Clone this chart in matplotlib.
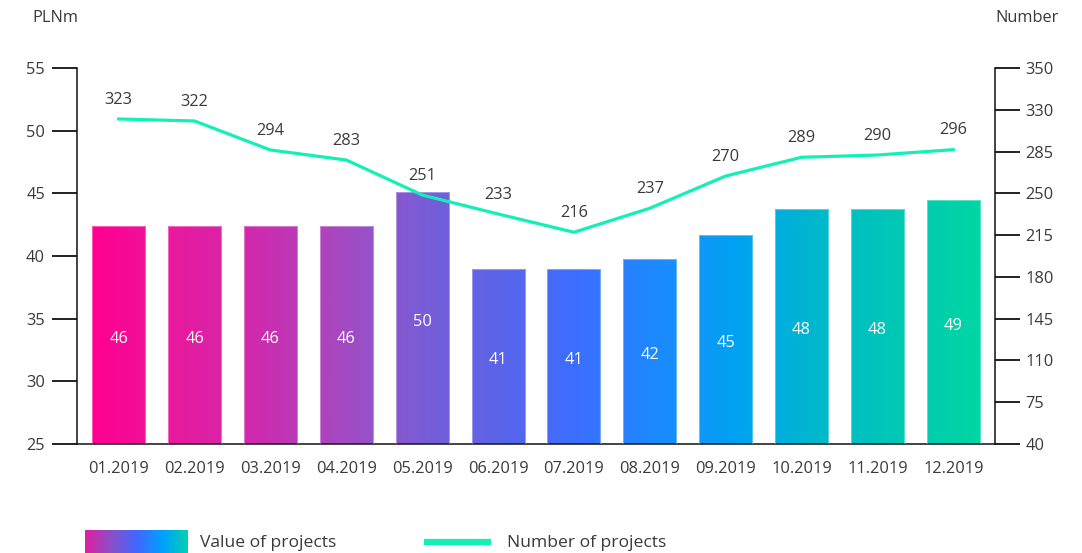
import numpy as np
import matplotlib
matplotlib.use("Agg")
import matplotlib.pyplot as plt
from matplotlib.colors import LinearSegmentedColormap
from matplotlib.lines import Line2D

plt.rcParams['font.family'] = ['Open Sans', 'DejaVu Sans']

# data
months = ["01.2019", "02.2019", "03.2019", "04.2019", "05.2019", "06.2019",
          "07.2019", "08.2019", "09.2019", "10.2019", "11.2019", "12.2019"]
bar_heights = [42.4, 42.4, 42.4, 42.4, 45.1, 39.0, 39.0, 39.8, 41.7, 43.75, 43.75, 44.45]
bar_labels = ["46", "46", "46", "46", "50", "41", "41", "42", "45", "48", "48", "49"]
line_vals = [312.3, 310.6, 286.3, 277.9, 248.6, 232.7, 217.4, 237.5, 264.5, 280.2, 282.1, 286.6]
line_labels = ["323", "322", "294", "283", "251", "233", "216", "237", "270", "289", "290", "296"]

left_ticks = [25, 30, 35, 40, 45, 50, 55]
right_ticks = [40, 75, 110, 145, 180, 215, 250, 285, 320, 355]
right_tick_labels = ["40", "75", "110", "145", "180", "215", "250", "285", "330", "350"]

# style
grad_colors = ["#FF0090", "#E81A9E", "#D02AAE", "#A848C0", "#7C5CD4", "#5C64E8",
               "#3C6EFF", "#1C8AFF", "#00A2F2", "#00B8CC", "#00C8B4", "#00D6A4"]
line_color = "#12F0B8"
text_color = "#3a3a3a"
fs = 11.8

cmap = LinearSegmentedColormap.from_list("bars", grad_colors)

fig = plt.figure(figsize=(10.82, 5.53), dpi=100)
ax = fig.add_axes([77 / 1082, 1 - 444 / 553, (995 - 77) / 1082, 376 / 553])
ax2 = ax.twinx()

ybase = left_ticks[0]
x = np.arange(len(months))
width = 0.7
bars = ax.bar(x, np.array(bar_heights) - ybase, bottom=ybase, width=width,
              color="none", edgecolor="none", zorder=2)

grad = np.linspace(0, 1, 600).reshape(1, -1)
gx0, gx1 = -width / 2, len(months) - 1 + width / 2
for b in bars:
    im = ax.imshow(grad, extent=[gx0, gx1, 0, 60], cmap=cmap, aspect="auto",
                   interpolation="bilinear", zorder=2)
    im.set_clip_path(b)
    b.set_edgecolor((1, 1, 1, 0.35))
    b.set_linewidth(0.8)
    b.set_zorder(3)

for xi, h, lab in zip(x, bar_heights, bar_labels):
    ax.text(xi, (ybase + h) / 2 - 0.3, lab, ha="center", va="center", color="white",
            fontsize=fs, zorder=4)

ax.set_xlim(-0.55, len(months) - 0.45)
ax.set_ylim(25, 55)
ax.set_yticks(left_ticks)
ax.set_xticks(x)
ax.set_xticklabels(months)

ax2.plot(x, line_vals, color=line_color, lw=2.3, zorder=5)
for xi, v, lab in zip(x, line_vals, line_labels):
    ax2.annotate(lab, (xi, v), xytext=(0, 14), textcoords="offset points",
                 ha="center", va="center", fontsize=fs, color=text_color)
ax2.set_ylim(40, 355)
ax2.set_yticks(right_ticks)
ax2.set_yticklabels(right_tick_labels)

for a in (ax, ax2):
    a.spines["top"].set_visible(False)
    for s in a.spines.values():
        s.set_linewidth(1.1)
        s.set_color("#111111")
ax.spines["right"].set_visible(False)
ax2.spines["left"].set_visible(False)
ax2.spines["bottom"].set_visible(False)

ax.tick_params(axis="y", direction="out", length=18, width=1.3, pad=5,
               labelsize=fs, labelcolor=text_color, color="#111111")
ax2.tick_params(axis="y", direction="out", length=18, width=1.3, pad=4,
                labelsize=fs, labelcolor=text_color, color="#111111")
ax.tick_params(axis="x", length=0, pad=12, labelsize=fs, labelcolor=text_color)

fig.text(55 / 1082, 1 - 18 / 553, "PLNm", ha="center", va="center",
         fontsize=fs, color=text_color)
fig.text(1027 / 1082, 1 - 18 / 553, "Number", ha="center", va="center",
         fontsize=fs, color=text_color)

# legend
lax = fig.add_axes([85 / 1082, 0, 103 / 1082, 23 / 553])
lax.imshow(grad, cmap=LinearSegmentedColormap.from_list(
    "leg", ["#E020A0", "#8A50C8", "#4466FF", "#00A0FF", "#00D0B0"]),
    aspect="auto", extent=[0, 1, 0, 1])
lax.set_axis_off()
fig.text(200 / 1082, 1 - 543 / 553, "Value of projects", ha="left", va="center",
         fontsize=12.6, color=text_color)
fig.add_artist(Line2D([427 / 1082, 488 / 1082], [1 - 541.5 / 553, 1 - 541.5 / 553],
                      color=line_color, lw=4.5, transform=fig.transFigure))
fig.text(507 / 1082, 1 - 543 / 553, "Number of projects", ha="left", va="center",
         fontsize=12.6, color=text_color)

fig.savefig("out.png", dpi=100)
